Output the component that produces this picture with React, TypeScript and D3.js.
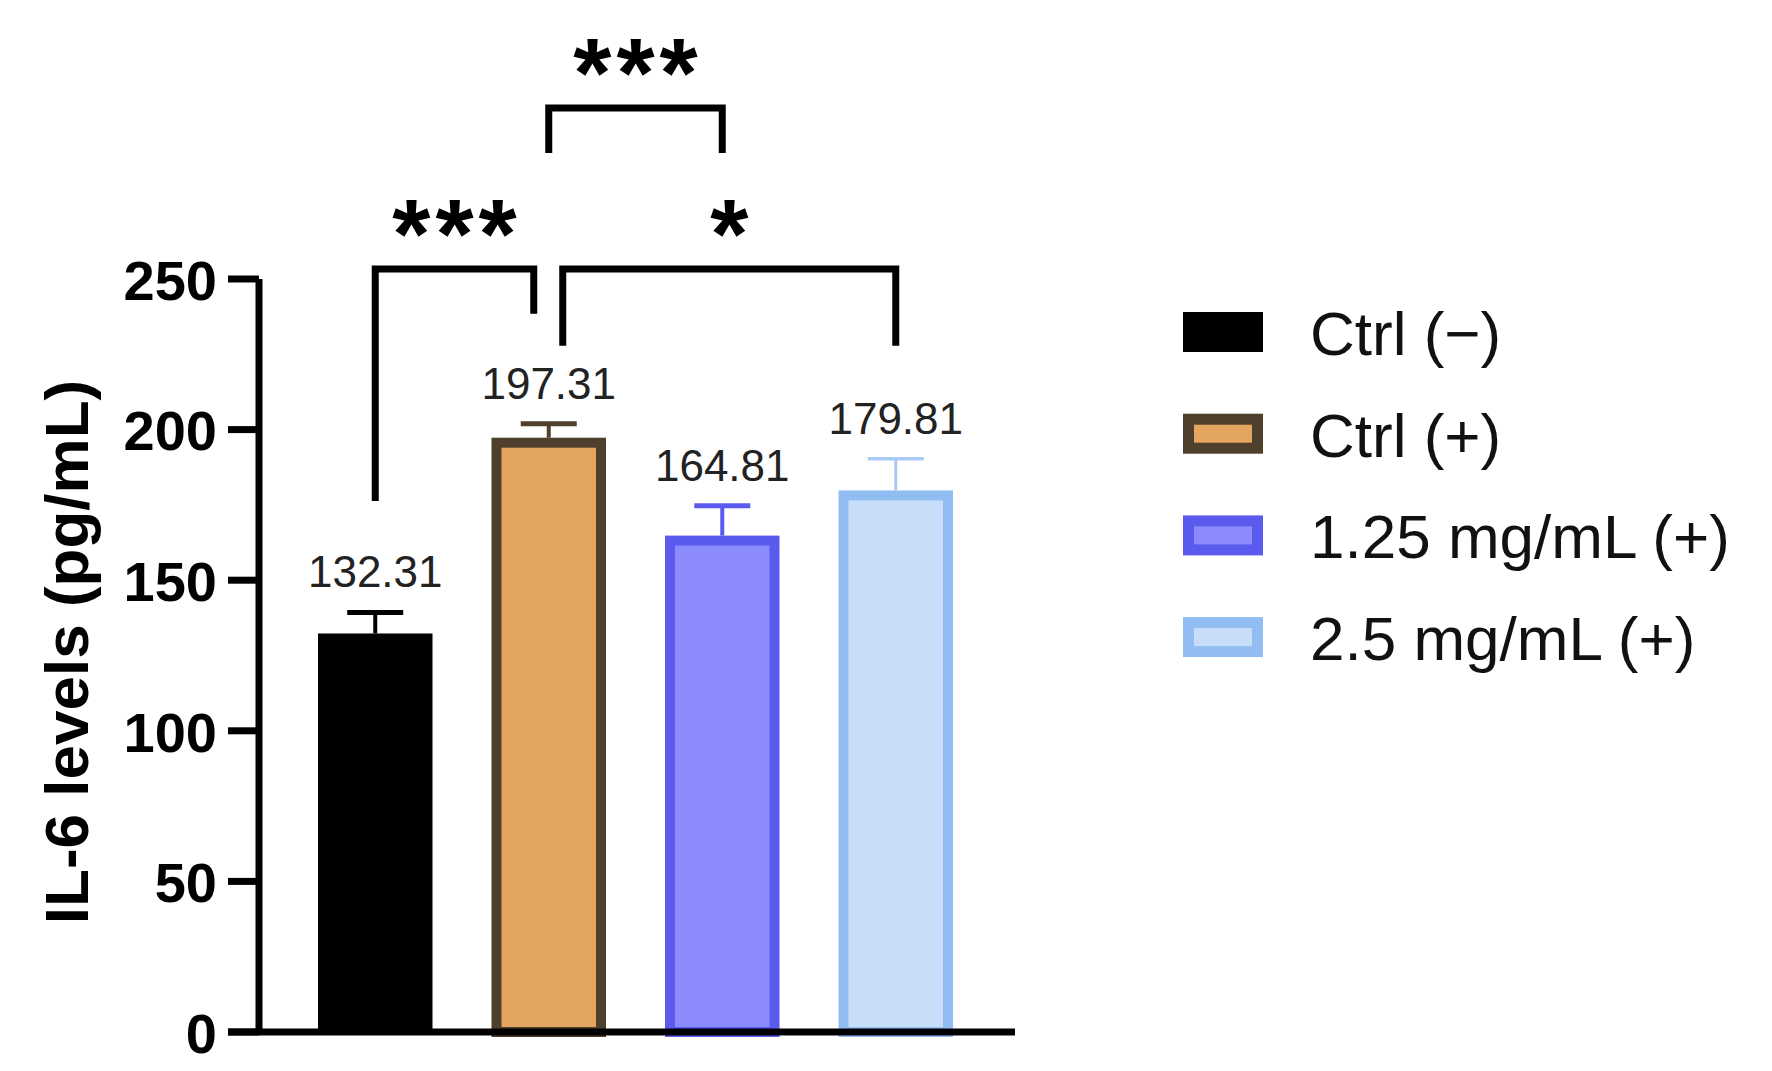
import * as d3 from "d3";

// IL-6 levels per treatment group (pg/mL), mean and error
const groups = ["Ctrl (−)", "Ctrl (+)", "1.25 mg/mL (+)", "2.5 mg/mL (+)"];
const means = [132.31, 197.31, 164.81, 179.81];
const errors = [7.0, 4.6, 9.9, 10.5];
const fills = ["#000000", "#e3a560", "#8b8bfd", "#c8ddf7"];
const strokes = ["#000000", "#4e402c", "#5a5aee", "#92bdf2"];
const errorColors = ["#000000", "#4e402c", "#5a5aee", "#a9caf2"];

// significance brackets: group indices, bar height, leg bottoms (in pg/mL), label
const comparisons = [
  { a: 0, b: 1, level: 253.3, endA: 176.3, endB: 238.5, nudgeA: 0, nudgeB: -15, label: "***" },
  { a: 1, b: 3, level: 253.3, endA: 227.8, endB: 227.8, nudgeA: 14, nudgeB: 0, label: "*" },
  { a: 1, b: 2, level: 306.8, endA: 291.8, endB: 291.8, nudgeA: 0, nudgeB: 0, label: "***" },
];

const yTicks = [0, 50, 100, 150, 200, 250];

const W = 1772;
const H = 1071;
const FONT = "'Liberation Sans', Arial, Helvetica, sans-serif";

export default function App() {
  const y = d3.scaleLinear().domain([0, 250]).range([1032, 279]);
  const x = d3
    .scaleBand<string>()
    .domain(groups)
    .range([259, 1012])
    .paddingInner(0.34)
    .paddingOuter(0.34);
  const bw = x.bandwidth();
  const sw = 10;
  const axisX = 259;
  const axisW = 7;
  const starGap = 5;

  return (
    <svg
      width={W}
      height={H}
      style={{ position: "absolute", left: 0, top: 0, background: "#fff" }}
      fontFamily={FONT}
    >
      {/* bars */}
      {groups.map((g, i) => {
        const x0 = x(g)!;
        const top = y(means[i]);
        const base = y(0);
        const outlined = i > 0;
        return outlined ? (
          <rect
            key={g}
            x={x0 + sw / 2}
            y={top + sw / 2}
            width={bw - sw}
            height={base - top - sw / 2}
            fill={fills[i]}
            stroke={strokes[i]}
            strokeWidth={sw}
          />
        ) : (
          <rect key={g} x={x0} y={top} width={bw} height={base - top} fill={fills[i]} />
        );
      })}

      {/* error bars and value labels */}
      {groups.map((g, i) => {
        const cx = x(g)! + bw / 2;
        const top = y(means[i]);
        const hi = y(means[i] + errors[i]);
        const capHalf = 28;
        const thin = i === 3;
        return (
          <g key={g}>
            <line
              x1={cx}
              x2={cx}
              y1={top}
              y2={hi}
              stroke={errorColors[i]}
              strokeWidth={thin ? 3 : 4}
            />
            <line
              x1={cx - capHalf}
              x2={cx + capHalf}
              y1={hi}
              y2={hi}
              stroke={errorColors[i]}
              strokeWidth={thin ? 3.5 : 5}
            />
            <text
              x={cx}
              y={hi - 25}
              textAnchor="middle"
              fontSize={44}
              fill="#222"
            >
              {means[i].toFixed(2)}
            </text>
          </g>
        );
      })}

      {/* y axis */}
      <line
        x1={axisX}
        x2={axisX}
        y1={y(250)}
        y2={y(0)}
        stroke="#000"
        strokeWidth={axisW}
      />
      {yTicks.map((t) => (
        <g key={t}>
          <line
            x1={228}
            x2={axisX}
            y1={y(t)}
            y2={y(t)}
            stroke="#000"
            strokeWidth={axisW}
          />
          <text
            x={217}
            y={y(t)}
            dy="0.37em"
            textAnchor="end"
            fontSize={56}
            fontWeight="bold"
            fill="#000"
          >
            {t}
          </text>
        </g>
      ))}

      {/* x axis */}
      <line
        x1={228}
        x2={1015}
        y1={y(0)}
        y2={y(0)}
        stroke="#000"
        strokeWidth={axisW}
      />

      <text
        transform={`translate(88, 652) rotate(-90)`}
        textAnchor="middle"
        fontSize={62}
        fontWeight="bold"
        fill="#000"
      >
        IL-6 levels (pg/mL)
      </text>

      {/* significance brackets */}
      {comparisons.map((c, k) => {
        const xa = x(groups[c.a])! + bw / 2 + c.nudgeA;
        const xb = x(groups[c.b])! + bw / 2 + c.nudgeB;
        const yl = y(c.level);
        const path = d3.path();
        path.moveTo(xa, y(c.endA));
        path.lineTo(xa, yl);
        path.lineTo(xb, yl);
        path.lineTo(xb, y(c.endB));
        return (
          <g key={k}>
            <path
              d={path.toString()}
              fill="none"
              stroke="#000"
              strokeWidth={7}
              strokeLinejoin="miter"
            />
            <text
              x={(xa + xb) / 2 + starGap / 2}
              y={yl - 59}
              dy={58}
              textAnchor="middle"
              fontSize={98}
              fontWeight="bold"
              letterSpacing={starGap}
              fill="#000"
            >
              {c.label}
            </text>
          </g>
        );
      })}

      {/* legend */}
      {groups.map((g, i) => {
        const cy = 332 + i * 101.7;
        const lx = 1183;
        const lw = 80;
        const lh = 40;
        const bs = 11;
        return (
          <g key={g}>
            {i === 0 ? (
              <rect x={lx} y={cy - lh / 2} width={lw} height={lh} fill={fills[i]} />
            ) : (
              <rect
                x={lx + bs / 2}
                y={cy - lh / 2 + bs / 2}
                width={lw - bs}
                height={lh - bs}
                fill={fills[i]}
                stroke={strokes[i]}
                strokeWidth={bs}
              />
            )}
            <text x={1310} y={cy + 23} fontSize={62} fill="#111">
              {g}
            </text>
          </g>
        );
      })}
    </svg>
  );
}
